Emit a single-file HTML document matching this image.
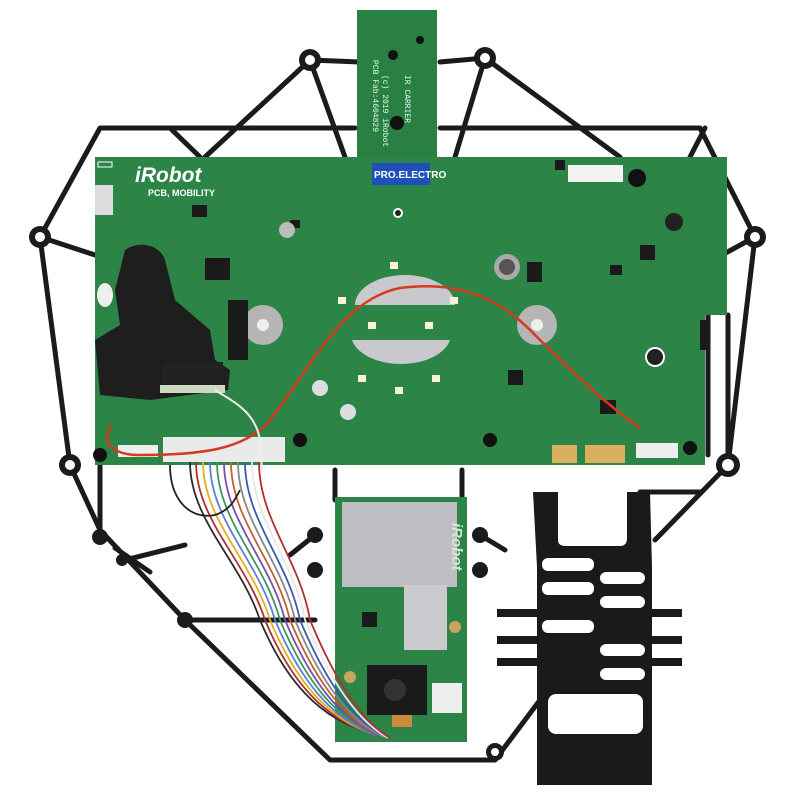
<!DOCTYPE html>
<html><head><meta charset="utf-8"><style>
html,body{margin:0;padding:0;background:#fff;width:800px;height:800px;overflow:hidden}
svg{display:block}
</style></head><body>
<svg width="800" height="800" viewBox="0 0 800 800" xmlns="http://www.w3.org/2000/svg">
<rect width="800" height="800" fill="#fff"/>
<!-- frame -->
<g fill="none" stroke="#1b1b1b" stroke-width="5" stroke-linejoin="round" stroke-linecap="round">
<polyline points="360,62 310,60 205,157"/>
<polyline points="310,60 345,157"/>
<polyline points="355,128 100,128 40,237 70,465"/>
<polyline points="170,128 200,157"/>
<polyline points="40,237 95,255"/>
<polyline points="440,62 485,58 620,157"/>
<polyline points="485,58 455,157"/>
<polyline points="440,128 700,128 755,237 728,465"/>
<polyline points="690,157 705,128"/>
<polyline points="755,237 722,255"/>
<polyline points="708,315 708,455"/>
<polyline points="728,315 728,455"/>
<polyline points="70,465 100,530 185,620 330,760 495,760"/>
<polyline points="100,465 100,530"/>
<polyline points="185,620 315,620"/>
<polyline points="125,560 185,545"/>
<polyline points="115,548 150,572"/>
<polyline points="728,465 655,540"/>
<polyline points="640,492 700,492"/>
<polyline points="495,760 540,700"/>
<polyline points="335,470 335,500"/>
<polyline points="462,470 462,500"/>
<polyline points="315,535 290,555"/>
<polyline points="480,535 505,550"/>
</g>
<g fill="#1b1b1b">
<circle cx="40" cy="237" r="11"/><circle cx="755" cy="237" r="11"/>
<circle cx="70" cy="465" r="11"/><circle cx="728" cy="465" r="12"/>
<circle cx="310" cy="60" r="11"/><circle cx="485" cy="58" r="11"/>
<circle cx="100" cy="537" r="8"/><circle cx="185" cy="620" r="8"/>
<circle cx="315" cy="535" r="8"/><circle cx="315" cy="570" r="8"/>
<circle cx="480" cy="535" r="8"/><circle cx="480" cy="570" r="8"/>
<circle cx="495" cy="752" r="9"/><circle cx="122" cy="560" r="6"/>
</g>
<g fill="#fff"><circle cx="40" cy="237" r="5"/><circle cx="755" cy="237" r="5"/><circle cx="70" cy="465" r="5"/><circle cx="728" cy="465" r="6"/><circle cx="310" cy="60" r="5"/><circle cx="485" cy="58" r="5"/><circle cx="495" cy="752" r="4"/></g>
<!-- top small board -->
<rect x="357" y="10" width="80" height="148" fill="#2a7f42"/>
<text transform="translate(373,60) rotate(90)" font-family="Liberation Mono" font-size="8" fill="#dfe">PCB Fab:4604829</text>
<text transform="translate(383,75) rotate(90)" font-family="Liberation Mono" font-size="8" fill="#dfe">(c) 2019 iRobot</text>
<text transform="translate(405,75) rotate(90)" font-family="Liberation Mono" font-size="8" fill="#dfe">IR CARRIER</text>
<circle cx="397" cy="123" r="7" fill="#111"/><circle cx="393" cy="55" r="5" fill="#111"/><circle cx="420" cy="40" r="4" fill="#111"/>
<!-- main pcb -->
<path d="M95,157 L727,157 L727,315 L705,315 L705,465 L95,465 Z" fill="#2d8447"/>
<text x="135" y="182" font-family="Liberation Sans" font-weight="bold" font-style="italic" font-size="21" fill="#fff">iRobot</text>
<text x="148" y="196" font-family="Liberation Sans" font-weight="bold" font-size="9" fill="#fff">PCB, MOBILITY</text>
<rect x="98" y="162" width="14" height="5" fill="none" stroke="#fff" stroke-width="1"/>
<rect x="372" y="163" width="58" height="22" fill="#1f4fb8"/>
<text x="374" y="178" font-family="Liberation Sans" font-weight="bold" font-size="10" fill="#fff">PRO.ELECTRO</text>
<rect x="568" y="165" width="55" height="17" fill="#f2f2f2"/>
<circle cx="637" cy="178" r="9" fill="#111"/>
<rect x="95" y="185" width="18" height="30" fill="#ddd"/>
<!-- left black part -->
<path d="M125,250 C140,240 160,245 165,260 L175,300 L210,330 L215,360 L230,370 L228,390 L150,400 L100,395 L95,340 L120,325 L115,290 Z" fill="#1e1e1e"/>
<rect x="163" y="362" width="60" height="25" fill="#222"/>
<rect x="160" y="385" width="65" height="8" fill="#cfd8c0"/>
<ellipse cx="105" cy="295" rx="8" ry="12" fill="#eee"/>
<!-- shields -->
<path d="M355,305 A50,30 0 0 1 455,305 Z" fill="#c9c9cd"/>
<path d="M352,340 L450,340 A50,30 0 0 1 352,340 Z" fill="#c9c9cd"/>
<circle cx="263" cy="325" r="20" fill="#b5b5b5"/><circle cx="263" cy="325" r="6" fill="#eee"/>
<circle cx="537" cy="325" r="20" fill="#b5b5b5"/><circle cx="537" cy="325" r="6" fill="#eee"/>
<circle cx="507" cy="267" r="13" fill="#aaa"/><circle cx="507" cy="267" r="8" fill="#555"/>
<circle cx="655" cy="357" r="10" fill="#fff"/><circle cx="655" cy="357" r="8" fill="#222"/>
<circle cx="398" cy="213" r="5" fill="#fff"/><circle cx="398" cy="213" r="3" fill="#222"/>
<circle cx="674" cy="222" r="9" fill="#222"/>
<g fill="#f6f3da"><rect x="368" y="322" width="8" height="7"/><rect x="425" y="322" width="8" height="7"/><rect x="358" y="375" width="8" height="7"/><rect x="432" y="375" width="8" height="7"/><rect x="338" y="297" width="8" height="7"/><rect x="450" y="297" width="8" height="7"/><rect x="390" y="262" width="8" height="7"/><rect x="395" y="387" width="8" height="7"/></g>
<g fill="#1a1a1a"><rect x="205" y="258" width="25" height="22"/><rect x="228" y="300" width="20" height="60"/><rect x="527" y="262" width="15" height="20"/><rect x="508" y="370" width="15" height="15"/><rect x="640" y="245" width="15" height="15"/><rect x="192" y="205" width="15" height="12"/><rect x="555" y="160" width="10" height="10"/><rect x="600" y="400" width="16" height="14"/><rect x="700" y="320" width="6" height="30"/><rect x="610" y="265" width="12" height="10"/><rect x="290" y="220" width="10" height="8"/></g>
<circle cx="287" cy="230" r="8" fill="#bbb"/>
<circle cx="320" cy="388" r="8" fill="#ddd"/><circle cx="348" cy="412" r="8" fill="#ddd"/>
<circle cx="300" cy="440" r="7" fill="#111"/><circle cx="490" cy="440" r="7" fill="#111"/><circle cx="100" cy="455" r="7" fill="#111"/><circle cx="690" cy="448" r="7" fill="#111"/>
<g fill="#d8b060"><rect x="552" y="445" width="25" height="18"/><rect x="585" y="445" width="40" height="18"/></g>
<rect x="163" y="437" width="122" height="25" fill="#eaeaea"/>
<rect x="118" y="445" width="40" height="12" fill="#eee"/>
<rect x="636" y="443" width="42" height="15" fill="#eee"/>
<path d="M112,425 C100,440 110,455 140,455 C200,455 245,450 270,420 C310,370 340,300 400,288 C460,280 500,300 530,330 C560,360 600,400 640,428" fill="none" stroke="#d43a1f" stroke-width="2.5"/>
<path d="M215,390 C230,400 255,410 260,440 L262,470" fill="none" stroke="#eee" stroke-width="2"/>
<!-- bottom module -->
<rect x="335" y="497" width="132" height="245" fill="#2d8447"/>
<rect x="342" y="502" width="115" height="85" fill="#bebec2"/>
<rect x="404" y="585" width="43" height="65" fill="#cbcbcf"/>
<text transform="translate(452,523) rotate(90)" font-family="Liberation Sans" font-weight="bold" font-style="italic" font-size="15" fill="#d8e8d8">iRobot</text>
<rect x="362" y="612" width="15" height="15" fill="#1a1a1a"/>
<rect x="367" y="665" width="60" height="50" fill="#1a1a1a"/>
<circle cx="395" cy="690" r="11" fill="#333"/>
<rect x="432" y="683" width="30" height="30" fill="#eee"/>
<rect x="392" y="715" width="20" height="12" fill="#c98b3a"/>
<circle cx="455" cy="627" r="6" fill="#c9a460"/><circle cx="350" cy="677" r="6" fill="#c9a460"/>
<!-- ribbon wires -->
<g fill="none" stroke-width="1.8">
<path d="M190,462 C190,520 240,560 260,620 C285,680 320,720 370,732" stroke="#2a2a2a"/>
<path d="M196,462 C196,520 246,560 265,620 C290,680 324,720 372,733" stroke="#b03030"/>
<path d="M203,462 C203,520 252,560 270,620 C295,680 328,720 374,734" stroke="#e0b020"/>
<path d="M210,462 C210,520 258,560 275,620 C300,680 332,720 376,735" stroke="#5c7ed6"/>
<path d="M217,462 C217,520 264,560 280,620 C305,680 336,720 378,735" stroke="#3a9a5a"/>
<path d="M224,462 C224,520 270,560 285,620 C310,680 340,720 380,736" stroke="#7a4fa8"/>
<path d="M231,462 C231,520 276,560 290,620 C315,680 344,720 382,736" stroke="#c06030"/>
<path d="M238,462 C238,520 282,560 295,620 C320,680 348,720 384,737" stroke="#888"/>
<path d="M245,462 C245,520 288,560 300,620 C325,680 352,720 386,737" stroke="#3a5ab0"/>
<path d="M252,462 C252,520 294,560 305,620 C330,680 356,720 388,738" stroke="#e8e8e8"/>
<path d="M259,462 C259,520 300,560 310,620 C335,680 360,720 390,738" stroke="#b03030"/>
<path d="M170,465 C170,500 190,520 215,515 C230,510 235,500 240,490" stroke="#222"/>
</g>
<!-- right black bracket -->
<g fill="#1a1a1a">
<path d="M533,492 L558,492 L558,540 C558,545 562,546 566,546 L620,546 C625,546 627,543 627,538 L627,492 L650,492 L652,567 L652,785 L537,785 L537,567 Z"/>
<rect x="497" y="609" width="185" height="8"/><rect x="497" y="636" width="185" height="8"/><rect x="497" y="658" width="185" height="8"/>
</g>
<g fill="#fff">
<rect x="542" y="558" width="52" height="13" rx="6"/><rect x="542" y="582" width="52" height="13" rx="6"/><rect x="542" y="620" width="52" height="13" rx="6"/><rect x="542" y="669" width="52" height="0"/>
<rect x="600" y="572" width="45" height="12" rx="6"/><rect x="600" y="596" width="45" height="12" rx="6"/><rect x="600" y="644" width="45" height="12" rx="6"/><rect x="600" y="668" width="45" height="12" rx="6"/>
<rect x="548" y="694" width="95" height="40" rx="8"/>
</g>
</svg>
</body></html>
